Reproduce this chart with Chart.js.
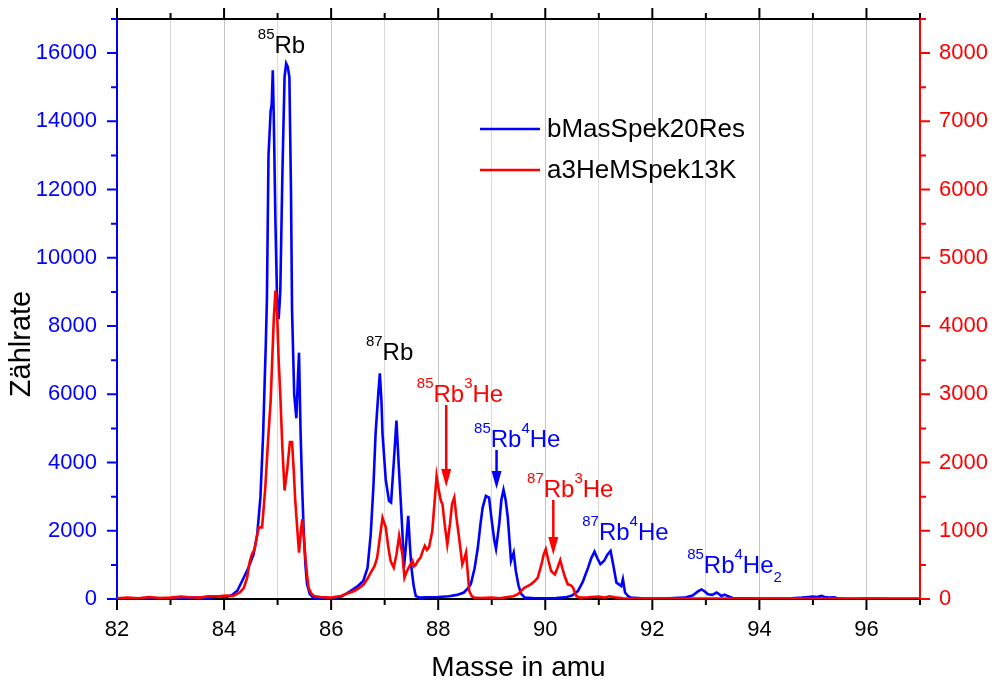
<!DOCTYPE html>
<html>
<head>
<meta charset="utf-8">
<script src="https://cdn.jsdelivr.net/npm/chart.js@4"></script>
<style>
  body { margin: 0; background: #fff; }
</style>
</head>
<body>
<canvas id="chart" width="996" height="682"></canvas>
<script>
// Massenspektren (x = Masse in amu)
var blueName = "bMasSpek20Res";
var redName = "a3HeMSpek13K";

var blueMass = [82.0, 82.3, 82.6, 82.9, 83.2, 83.5, 83.7, 83.9, 84.05, 84.15, 84.25, 84.36, 84.45, 84.55, 84.62, 84.68, 84.73, 84.78, 84.8, 84.83, 84.87, 84.89, 84.91, 84.93, 84.96, 84.99, 85.02, 85.05, 85.09, 85.13, 85.16, 85.19, 85.22, 85.25, 85.27, 85.31, 85.35, 85.38, 85.4, 85.43, 85.46, 85.49, 85.52, 85.55, 85.6, 85.67, 85.8, 86.0, 86.2, 86.36, 86.5, 86.6, 86.68, 86.74, 86.79, 86.83, 86.88, 86.91, 86.94, 86.96, 87.02, 87.08, 87.12, 87.17, 87.22, 87.26, 87.3, 87.33, 87.36, 87.4, 87.44, 87.47, 87.5, 87.54, 87.58, 87.65, 87.8, 88.0, 88.2, 88.35, 88.48, 88.55, 88.61, 88.68, 88.74, 88.79, 88.83, 88.89, 88.95, 89.0, 89.05, 89.08, 89.14, 89.18, 89.22, 89.26, 89.3, 89.36, 89.41, 89.45, 89.5, 89.55, 89.62, 89.8, 90.0, 90.2, 90.4, 90.5, 90.61, 90.7, 90.8, 90.86, 90.92, 90.97, 91.03, 91.1, 91.16, 91.22, 91.27, 91.33, 91.42, 91.45, 91.49, 91.55, 91.6, 91.8, 92.0, 92.3, 92.6, 92.75, 92.86, 92.92, 92.98, 93.04, 93.12, 93.2, 93.25, 93.29, 93.35, 93.4, 93.5, 93.7, 94.0, 94.3, 94.6, 94.8, 94.92, 95.0, 95.08, 95.16, 95.22, 95.3, 95.4, 95.48, 95.7, 96.0, 96.5, 97.0];
var blueCount = [20, 10, 30, 15, 25, 40, 30, 80, 60, 120, 250, 600, 900, 1300, 1900, 3000, 4840, 7500, 8750, 13000, 14300, 14500, 15500, 14000, 11000, 8800, 8200, 9000, 12500, 15300, 15700, 15600, 15300, 12000, 8450, 6000, 5300, 6500, 7220, 4840, 3200, 1900, 1000, 440, 150, 30, 10, 0, 80, 230, 380, 530, 910, 1900, 3300, 4840, 6000, 6615, 5800, 4840, 3500, 2880, 2830, 4000, 5230, 4000, 2880, 2000, 920, 1600, 2440, 1600, 920, 400, 90, 40, 50, 60, 80, 120, 190, 300, 440, 900, 1500, 2200, 2680, 3020, 2970, 2300, 1700, 1470, 2200, 2900, 3200, 2900, 2390, 1120, 1360, 820, 400, 150, 40, 20, 20, 30, 60, 100, 230, 500, 920, 1200, 1390, 1200, 1020, 1120, 1300, 1410, 1000, 480, 380, 580, 190, 80, 40, 20, 10, 20, 40, 100, 230, 280, 220, 140, 120, 190, 140, 90, 130, 90, 30, 20, 10, 10, 20, 40, 60, 70, 60, 90, 60, 40, 50, 10, 0, 10, 0, 0];

var redMass = [82.0, 82.2, 82.4, 82.6, 82.8, 83.0, 83.2, 83.35, 83.55, 83.7, 83.93, 84.05, 84.17, 84.3, 84.37, 84.43, 84.48, 84.52, 84.57, 84.61, 84.65, 84.71, 84.77, 84.82, 84.87, 84.93, 84.96, 84.99, 85.02, 85.05, 85.09, 85.13, 85.18, 85.23, 85.27, 85.3, 85.33, 85.37, 85.4, 85.43, 85.46, 85.49, 85.52, 85.55, 85.58, 85.63, 85.68, 85.8, 86.0, 86.18, 86.3, 86.43, 86.52, 86.61, 86.68, 86.74, 86.81, 86.86, 86.91, 86.96, 87.02, 87.07, 87.11, 87.17, 87.22, 87.27, 87.33, 87.37, 87.41, 87.45, 87.52, 87.55, 87.58, 87.62, 87.67, 87.71, 87.75, 87.79, 87.83, 87.89, 87.93, 87.97, 88.01, 88.05, 88.08, 88.12, 88.17, 88.22, 88.26, 88.3, 88.34, 88.39, 88.45, 88.49, 88.52, 88.55, 88.58, 88.63, 88.67, 88.8, 89.0, 89.15, 89.3, 89.4, 89.49, 89.55, 89.61, 89.67, 89.73, 89.8, 89.86, 89.93, 89.97, 90.01, 90.06, 90.11, 90.18, 90.23, 90.28, 90.32, 90.36, 90.42, 90.48, 90.52, 90.58, 90.64, 90.8, 91.0, 91.1, 91.2, 91.3, 91.45, 91.7, 92.0, 92.5, 93.0, 94.0, 95.0, 96.0, 97.0];
var redCount = [10, 20, 10, 30, 15, 20, 35, 25, 20, 40, 44, 50, 44, 100, 165, 310, 550, 655, 730, 900, 1050, 1050, 1630, 2300, 2900, 4130, 4520, 4200, 3500, 3000, 2200, 1590, 1900, 2300, 2300, 1900, 1440, 1000, 680, 950, 1170, 900, 606, 350, 165, 80, 44, 30, 20, 44, 80, 117, 160, 215, 300, 386, 480, 606, 900, 1190, 1050, 750, 560, 460, 650, 925, 656, 313, 400, 460, 560, 480, 500, 560, 606, 700, 780, 720, 760, 1000, 1400, 1800, 1600, 1440, 1390, 1100, 800, 1100, 1400, 1490, 1200, 900, 510, 600, 680, 400, 117, 40, 20, 15, 20, 10, 30, 40, 70, 120, 165, 190, 215, 260, 313, 510, 650, 730, 560, 410, 360, 460, 570, 450, 340, 215, 200, 165, 44, 20, 25, 35, 20, 40, 25, 10, 5, 5, 5, 5, 5, 5, 5, 5];

// Achsenbeschriftungen
var massTicks = [82, 84, 86, 88, 90, 92, 94, 96];
var leftTicks = [0, 2000, 4000, 6000, 8000, 10000, 12000, 14000, 16000];
var rightTicks = [0, 1000, 2000, 3000, 4000, 5000, 6000, 7000, 8000];
var yTitle = "Zählrate";

// Beschriftungen: Masse links, Zählrate Grundlinie, Textteile
var labelMass = [84.63, 86.65, 87.60, 88.67, 89.66, 90.69, 92.65];
var labelCount = [16000, 7005, 5774, 4455, 2989, 1729, 762];
var labelParts = [
  [["85", "sup"], ["Rb", ""]],
  [["87", "sup"], ["Rb", ""]],
  [["85", "sup"], ["Rb", ""], ["3", "sup"], ["He", ""]],
  [["85", "sup"], ["Rb", ""], ["4", "sup"], ["He", ""]],
  [["87", "sup"], ["Rb", ""], ["3", "sup"], ["He", ""]],
  [["87", "sup"], ["Rb", ""], ["4", "sup"], ["He", ""]],
  [["85", "sup"], ["Rb", ""], ["4", "sup"], ["He", ""], ["2", "sub"]]
];
var labelColor = ["#000000", "#000000", "#ff0000", "#0000ff", "#ff0000", "#0000ff", "#0000ff"];

// Pfeile: Masse, oberes Ende, Spitze (Zählrate, linke Achse)
var arrowMass = [88.15, 89.09, 90.15];
var arrowTop = [5686, 4367, 2902];
var arrowTip = [3283, 3224, 1290];
var arrowColor = ["#ff0000", "#0000ff", "#ff0000"];

var FONT = "'Liberation Sans', Arial, sans-serif";

function toPoints(xs, ys) {
  return xs.map(function (x, i) { return { x: x, y: ys[i] }; });
}

function setTicks(list) {
  return function (s) { s.ticks = list.map(function (v) { return { value: v }; }); };
}

function fixWidth(w) {
  return function (s) { s.width = w; s.paddingTop = 0; s.paddingBottom = 0; };
}

// Rahmen, Achsen und Teilstriche
var frame = {
  id: "frame",
  beforeDatasetsDraw: function (chart) {
    var c = chart.ctx, a = chart.chartArea;
    var x = chart.scales.x, y = chart.scales.y, y2 = chart.scales.y2;
    c.save();
    c.lineWidth = 2;
    c.strokeStyle = "#000";
    c.beginPath();
    for (var v = 82; v <= 97; v++) {
      var px = x.getPixelForValue(v);
      var len = v % 2 === 0 ? 11 : 6;
      c.moveTo(px, a.bottom); c.lineTo(px, a.bottom + len);
      c.moveTo(px, a.top); c.lineTo(px, a.top - len);
    }
    c.moveTo(a.left, a.bottom); c.lineTo(a.right, a.bottom);
    c.moveTo(a.left, a.top); c.lineTo(a.right, a.top);
    c.stroke();

    c.strokeStyle = "#0000ff";
    c.beginPath();
    for (var w = 0; w <= 17000; w += 1000) {
      var py = y.getPixelForValue(w);
      c.moveTo(a.left, py); c.lineTo(a.left - (w % 2000 === 0 ? 10 : 6), py);
    }
    c.moveTo(a.left, a.top); c.lineTo(a.left, a.bottom);
    c.stroke();

    c.strokeStyle = "#ff0000";
    c.beginPath();
    for (var r = 0; r <= 8500; r += 500) {
      var qy = y2.getPixelForValue(r);
      c.moveTo(a.right, qy); c.lineTo(a.right + (r % 1000 === 0 ? 10 : 6), qy);
    }
    c.moveTo(a.right, a.top); c.lineTo(a.right, a.bottom);
    c.stroke();

    // Achsentitel links
    c.fillStyle = "#000";
    c.font = "29px " + FONT;
    c.textAlign = "center";
    c.textBaseline = "middle";
    c.translate(22, 344);
    c.rotate(-Math.PI / 2);
    c.fillText(yTitle, 0, 0);
    c.restore();
  },
  afterDraw: function (chart) {
    var c = chart.ctx;
    var x = chart.scales.x, y = chart.scales.y;
    c.save();
    c.textBaseline = "alphabetic";
    c.textAlign = "left";
    labelParts.forEach(function (parts, i) {
      var px = x.getPixelForValue(labelMass[i]);
      var py = y.getPixelForValue(labelCount[i]);
      c.fillStyle = labelColor[i];
      parts.forEach(function (p) {
        var small = p[1] !== "";
        c.font = (small ? 15 : 24) + "px " + FONT;
        var dy = p[1] === "sup" ? -14 : (p[1] === "sub" ? 9 : 0);
        c.fillText(p[0], px, py + dy);
        px += c.measureText(p[0]).width;
      });
    });

    arrowMass.forEach(function (m, i) {
      var ax = x.getPixelForValue(m);
      var top = y.getPixelForValue(arrowTop[i]);
      var tip = y.getPixelForValue(arrowTip[i]);
      c.strokeStyle = arrowColor[i];
      c.fillStyle = arrowColor[i];
      c.lineWidth = 2.5;
      c.beginPath();
      c.moveTo(ax, top); c.lineTo(ax, tip - 12);
      c.stroke();
      c.beginPath();
      c.moveTo(ax - 5, tip - 18); c.lineTo(ax + 5, tip - 18); c.lineTo(ax, tip);
      c.closePath();
      c.fill();
    });

    // Legende
    var items = [[blueName, "#0000ff", 129], [redName, "#ff0000", 170]];
    c.font = "26px " + FONT;
    c.textBaseline = "middle";
    items.forEach(function (it) {
      c.strokeStyle = it[1];
      c.lineWidth = 2.5;
      c.beginPath();
      c.moveTo(480, it[2]); c.lineTo(540, it[2]);
      c.stroke();
      c.fillStyle = "#000";
      c.fillText(it[0], 547, it[2] + 1);
    });
    c.restore();
  }
};

var ctx = document.getElementById("chart").getContext("2d");

var chart = new Chart(ctx, {
  type: "line",
  data: {
    datasets: [
      {
        label: blueName,
        data: toPoints(blueMass, blueCount),
        borderColor: "#0000ff",
        borderWidth: 2.6,
        pointRadius: 0,
        tension: 0,
        yAxisID: "y",
        order: 1
      },
      {
        label: redName,
        data: toPoints(redMass, redCount),
        borderColor: "#ff0000",
        borderWidth: 2.6,
        pointRadius: 0,
        tension: 0,
        yAxisID: "y2",
        order: 0
      }
    ]
  },
  options: {
    responsive: false,
    animation: false,
    devicePixelRatio: 1,
    layout: { padding: { top: 19, left: 0, right: 0, bottom: 0 } },
    plugins: { legend: { display: false }, tooltip: { enabled: false } },
    scales: {
      x: {
        type: "linear",
        min: 82,
        max: 97,
        afterFit: function (s) { s.height = 83; s.paddingLeft = 0; s.paddingRight = 0; },
        border: { display: false },
        grid: {
          drawTicks: false,
          color: function (c) { return c.tick && c.tick.value % 2 === 0 ? "#c4c4c4" : "#dadada"; }
        },
        ticks: {
          stepSize: 1,
          padding: 18,
          maxRotation: 0,
          autoSkip: false,
          color: "#000",
          font: { family: FONT, size: 22 },
          callback: function (v) { return massTicks.indexOf(v) >= 0 ? String(v) : ""; }
        },
        title: {
          display: true,
          text: "Masse in amu",
          color: "#000",
          font: { family: FONT, size: 28, lineHeight: 1 },
          padding: { top: 0, bottom: 0 }
        }
      },
      y: {
        position: "left",
        min: 0,
        max: 17000,
        afterBuildTicks: setTicks(leftTicks),
        afterFit: fixWidth(117),
        border: { display: false },
        grid: { display: false, drawTicks: false },
        ticks: {
          padding: 20,
          color: "#0000ff",
          font: { family: FONT, size: 22 },
          callback: function (v) { return String(v); }
        }
      },
      y2: {
        position: "right",
        min: 0,
        max: 8500,
        afterBuildTicks: setTicks(rightTicks),
        afterFit: fixWidth(76),
        border: { display: false },
        grid: { display: false, drawTicks: false },
        ticks: {
          padding: 19,
          color: "#ff0000",
          font: { family: FONT, size: 22 },
          callback: function (v) { return String(v); }
        }
      }
    }
  },
  plugins: [frame]
});
</script>
</body>
</html>
